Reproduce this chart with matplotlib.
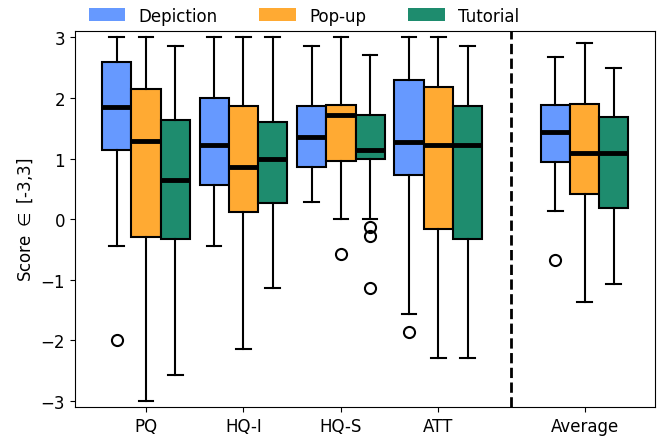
import matplotlib
matplotlib.use("Agg")
import matplotlib.pyplot as plt
import matplotlib.patches as mpatches

## categories and conditions
groups = ['PQ', 'HQ-I', 'HQ-S', 'ATT', 'Average']
group_pos = [0, 1, 2, 3, 4.5]
conditions = ['Depiction', 'Pop-up', 'Tutorial']
colors = ['#6699ff', '#ffaa33', '#1e8c6e']

## box statistics: [whislo, q1, med, q3, whishi]
depiction = [
    [-0.44, 1.14, 1.85, 2.60, 3.0],
    [-0.44, 0.57, 1.22, 2.00, 3.0],
    [0.29, 0.86, 1.36, 1.86, 2.86],
    [-1.57, 0.72, 1.28, 2.29, 3.0],
    [0.14, 0.95, 1.43, 1.89, 2.68],
]
popup = [
    [-3.0, -0.29, 1.29, 2.15, 3.0],
    [-2.14, 0.12, 0.86, 1.86, 3.0],
    [0.0, 0.96, 1.72, 1.89, 3.0],
    [-2.29, -0.17, 1.22, 2.18, 3.0],
    [-1.36, 0.41, 1.09, 1.90, 2.90],
]
tutorial = [
    [-2.57, -0.33, 0.64, 1.64, 2.86],
    [-1.14, 0.26, 1.0, 1.61, 3.0],
    [0.0, 1.0, 1.14, 1.71, 2.71],
    [-2.29, -0.32, 1.22, 1.86, 2.86],
    [-1.07, 0.18, 1.09, 1.69, 2.50],
]
depiction_fliers = [[-2.0], [], [], [-1.86], [-0.68]]
popup_fliers = [[], [], [-0.57], [], []]
tutorial_fliers = [[], [], [-0.13, -0.28, -1.14], [], []]

all_stats = [depiction, popup, tutorial]
all_fliers = [depiction_fliers, popup_fliers, tutorial_fliers]

fig = plt.figure(figsize=(6.62, 4.39), dpi=100)
ax = fig.add_axes([0.113, 0.0706, 0.876, 0.856])

width = 0.3
offsets = [-0.3, 0.0, 0.3]

for c in range(3):
    stats = []
    for g in range(len(groups)):
        lo, q1, med, q3, hi = all_stats[c][g]
        stats.append(dict(whislo=lo, q1=q1, med=med, q3=q3, whishi=hi,
                          fliers=all_fliers[c][g]))
    pos = [p + offsets[c] for p in group_pos]
    ax.bxp(stats, positions=pos, widths=width, patch_artist=True,
           showfliers=True, manage_ticks=False,
           boxprops=dict(facecolor=colors[c], edgecolor='black', linewidth=1.5),
           medianprops=dict(color='black', linewidth=3.5),
           whiskerprops=dict(color='black', linewidth=1.5),
           capprops=dict(color='black', linewidth=1.5),
           flierprops=dict(marker='o', markerfacecolor='none',
                           markeredgecolor='black', markersize=8,
                           markeredgewidth=1.5))

ax.axvline(3.75, color='black', linestyle='--', linewidth=2)

ax.set_xlim(-0.73, 5.22)
ax.set_ylim(-3.1, 3.1)
ax.set_xticks(group_pos)
ax.set_xticklabels(groups, fontsize=12)
ax.set_yticks([-3, -2, -1, 0, 1, 2, 3])
ax.tick_params(axis='y', labelsize=12)
ax.set_ylabel('Score $\\in$ [-3,3]', fontsize=12)

handles = [mpatches.Patch(facecolor=col, label=lab)
           for col, lab in zip(colors, conditions)]
ax.legend(handles=handles, loc='lower center', bbox_to_anchor=(0.395, 1.0),
          ncol=3, frameon=False, fontsize=12, handlelength=2.2,
          handleheight=0.85, columnspacing=2.5, borderaxespad=0.0)

fig.savefig('out.png', dpi=100)
